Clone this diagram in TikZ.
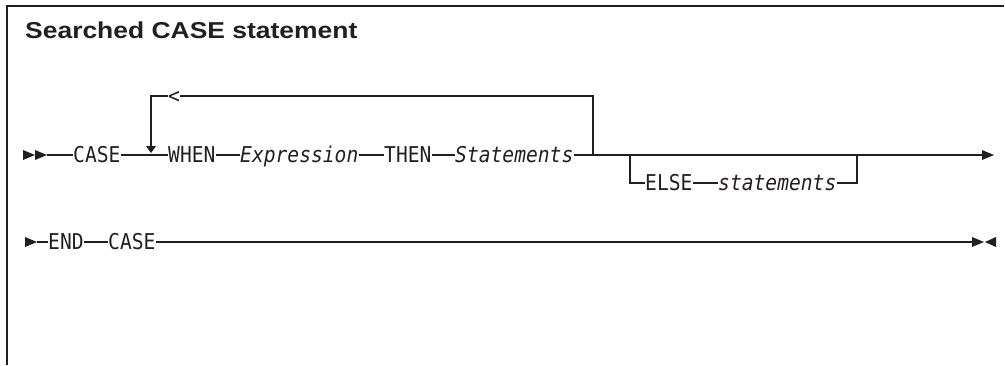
\documentclass[tikz,border=0pt]{standalone}
\usepackage{fontspec}
\setmainfont{Liberation Sans}
\newfontfamily\railfont[FakeStretch=0.9]{DejaVu Sans Mono}
\newfontfamily\titlefont[FakeStretch=1.15]{Liberation Sans}
\usetikzlibrary{positioning}

\definecolor{ink}{HTML}{231F20}

\tikzset{
  kw/.style={font=\railfont\fontsize{21.8}{21.8}\selectfont, inner sep=0pt,
    text height=15.9pt, text depth=0pt, anchor=west, text=ink},
  var/.style={kw, font=\railfont\itshape\fontsize{21.8}{21.8}\selectfont},
  rail/.style={draw=ink, line width=1.2pt},
  pics/rtri/.style={code={\fill[ink] (0,-5) -- (12,0) -- (0,5) -- cycle;}},
  pics/ltri/.style={code={\fill[ink] (0,-5) -- (-11,0) -- (0,5) -- cycle;}},
  pics/dtri/.style={code={\fill[ink] (-5,0) -- (5,0) -- (0,7) -- cycle;}},
}

\begin{document}
\begin{tikzpicture}[x=1pt,y=-1pt]
\useasboundingbox (0,0) rectangle (1005,365);

% frame and title
\draw[ink, line width=2pt] (7,365) -- (7,6) -- (1004,6);
\node[anchor=base west, inner sep=0pt, text=ink,
  font=\titlefont\bfseries\fontsize{23}{23}\selectfont] (title) at (25,38) {Searched CASE statement};

% first line
\pic at (23,155) {rtri};
\pic at (35,155) {rtri};
\coordinate (s1) at (47,155);
\node[kw] (case1) at (73,155) {CASE};
\node[kw] (when) at (168,155) {WHEN};
\node[var] (expr) at (240,155) {Expression};
\node[kw] (then) at (384,155) {THEN};
\node[var] (stmts) at (455,155) {Statements};
\coordinate (e1) at (982,155);
\pic at (e1) {rtri};

\draw[rail] (s1) -- (case1.west);
\draw[rail] (case1.east) -- (when.west);
\draw[rail] (when.east) -- (expr.west);
\draw[rail] (expr.east) -- (then.west);
\draw[rail] (then.east) -- (stmts.west);
\draw[rail] (stmts.east) -- (e1);

% repeat loop
\node[kw, anchor=center] (back) at (174,96) {<};
\coordinate (loopL) at (151,96);
\coordinate (loopR) at (593,96);
\coordinate (loopB) at (151,146);
\draw[rail] (loopR |- stmts.east) -- (loopR) -- (back.east);
\draw[rail] (back.west) -- (loopL) -- (loopB);
\pic at (loopB) {dtri};

% optional else
\node[kw] (else) at (645,183) {ELSE};
\node[var] (estmts) at (718,183) {statements};
\coordinate (br1) at (630,155);
\coordinate (br2) at (857,155);
\draw[rail] (br1) |- (else.west);
\draw[rail] (else.east) -- (estmts.west);
\draw[rail] (estmts.east) -| (br2);

% second line
\pic at (25,242) {rtri};
\coordinate (s2) at (37,242);
\node[kw] (end) at (48,242) {END};
\node[kw] (case2) at (108,242) {CASE};
\coordinate (e2) at (972,242);
\draw[rail] (s2) -- (end.west);
\draw[rail] (end.east) -- (case2.west);
\draw[rail] (case2.east) -- (e2);
\pic at (e2) {rtri};
\pic at (996,242) {ltri};

\end{tikzpicture}
\end{document}
